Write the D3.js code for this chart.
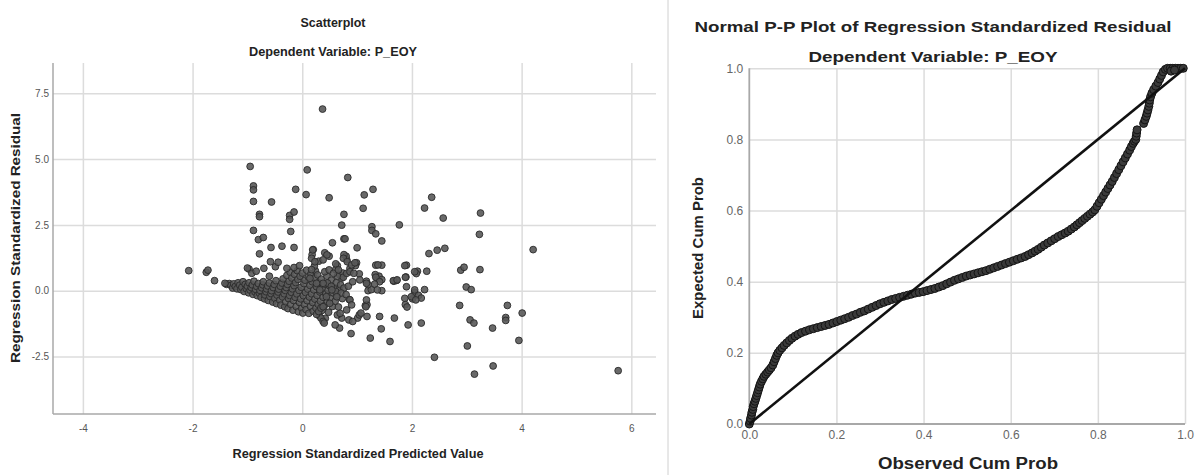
<!DOCTYPE html>
<html>
<head>
<meta charset="utf-8">
<script src="https://cdn.jsdelivr.net/npm/d3@7"></script>
<style>
  body { margin: 0; background: #fff; }
  svg { display: block; }
  .narrow { font-family: "Liberation Sans Narrow", "Arial Narrow", "Liberation Sans", sans-serif; }
  .wide { font-family: "Liberation Sans", Arial, sans-serif; }
</style>
</head>
<body>
<div id="chart"></div>
<script>
// ---- data ----
var predTicks = [-4, -2, 0, 2, 4, 6];
var residTicks = [-2.5, 0, 2.5, 5, 7.5];
var probTicks = [0, 0.2, 0.4, 0.6, 0.8, 1.0];

// [standardized predicted value, standardized residual]
var residCluster = [
  [-1.38,0.24],[-1.33,0.27],[-1.30,0.20],[-1.27,0.10],[-1.25,0.26],[-1.22,0.16],[-1.19,0.07],[-1.17,0.30],
  [-1.14,0.21],[-1.12,0.04],[-1.10,0.13],[-1.08,0.34],[-1.06,-0.03],[-1.04,0.24],[-1.02,0.08],[-1.00,0.17],
  [-0.98,-0.08],[-0.97,0.30],[-0.95,0.02],[-0.93,0.12],[-0.91,0.22],[-0.90,-0.14],[-0.88,0.36],[-0.86,-0.05],
  [-0.85,0.05],[-0.83,0.16],[-0.82,-0.19],[-0.80,0.27],[-0.78,-0.10],[-0.77,0.01],[-0.75,-0.25],[-0.74,0.11],
  [-0.72,0.22],[-0.71,0.34],[-0.69,-0.31],[-0.68,-0.16],[-0.66,-0.04],[-0.65,0.07],[-0.63,0.18],[-0.62,-0.37],
  [-0.60,0.29],[-0.59,-0.22],[-0.57,-0.11],[-0.56,0.00],[-0.54,-0.43],[-0.53,0.12],[-0.51,0.24],[-0.50,-0.29],
  [-0.48,0.38],[-0.47,-0.49],[-0.46,-0.17],[-0.44,-0.05],[-0.43,0.06],[-0.41,-0.36],[-0.40,0.17],[-0.39,-0.55],
  [-0.37,0.29],[-0.36,-0.24],[-0.35,0.45],[-0.33,-0.12],[-0.32,-0.61],[-0.31,0.01],[-0.30,-0.42],[-0.29,0.12],
  [-0.28,0.58],[-0.27,0.24],[-0.26,-0.68],[-0.25,-0.30],[-0.24,0.36],[-0.23,-0.18],[-0.22,0.70],[-0.21,-0.52],
  [-0.20,-0.06],[-0.19,0.48],[-0.18,0.07],[-0.17,-0.74],[-0.16,-0.37],[-0.15,0.19],[-0.14,0.62],[-0.13,-0.25],
  [-0.12,0.31],[-0.11,-0.60],[-0.10,-0.12],[-0.09,0.76],[-0.08,0.43],[-0.07,-0.80],[-0.06,0.01],[-0.05,-0.45],
  [-0.04,0.55],[-0.03,-0.31],[-0.02,0.13],[-0.01,-0.67],[0.00,0.67],[0.01,-0.85],[0.02,-0.19],[0.03,0.27],
  [0.04,-0.53],[0.05,0.40],[0.06,-0.07],[0.07,-0.72],[0.08,0.78],[0.09,-0.38],[0.10,0.06],[0.11,0.52],
  [0.12,-0.86],[0.13,-0.24],[0.14,0.20],[0.15,-0.60],[0.16,0.64],[0.17,-0.12],[0.18,0.34],[0.19,-0.45],
  [0.20,-0.78],[0.21,0.03],[0.22,0.48],[0.23,-0.32],[0.24,0.75],[0.25,-0.66],[0.26,0.15],[0.27,-0.18],
  [0.28,0.60],[0.29,-0.52],[0.30,0.30],[0.31,-0.95],[0.32,-0.05],[0.33,-0.40],[0.35,0.44],[0.36,-0.75],
  [0.37,0.10],[0.38,-0.25],[0.40,-0.58],[0.41,0.25],[0.42,-1.05],[0.43,-0.12],[0.45,0.55],[0.46,-0.42],
  [0.47,0.02],[0.48,-0.82],[0.50,0.18],[0.51,-0.28],[0.53,0.40],[0.55,-0.60],[0.56,-0.08],[0.58,0.12],
  [0.60,-0.40],[0.62,0.30],[0.64,-0.15],[0.66,-0.62],[0.68,0.05],[0.70,0.22],[0.73,-0.30],[0.76,0.10],
  [-0.97,0.82],[-0.92,0.66],[-0.70,0.85],[-0.60,0.55],[-0.49,0.91],[-0.44,1.08],[-0.28,0.85],[-0.15,0.88],
  [-0.05,0.95],[-1.00,0.86],[-0.84,0.74],[-0.58,1.10]
];

var residSpread = [
  [-2.07,0.76],[-1.75,0.70],[-1.72,0.78],[-1.60,0.38],[-1.41,0.28],[-0.95,4.72],[-0.89,3.98],[-0.89,3.83],
  [-0.89,3.39],[-0.56,3.37],[-0.78,2.90],[-0.78,2.81],[-0.89,2.29],[-0.80,1.94],[-0.71,2.02],[-0.57,1.64],
  [-0.37,1.69],[-0.15,1.64],[-0.78,1.40],[-0.23,2.86],[-0.23,2.71],[-0.15,2.99],[-0.21,2.25],[-0.12,3.85],
  [0.07,3.65],[0.09,4.59],[0.37,6.90],[0.49,3.53],[0.83,4.30],[0.76,2.90],[0.72,2.49],[0.76,1.97],
  [0.78,1.97],[0.55,1.82],[1.00,1.63],[1.11,3.13],[1.13,3.64],[1.29,3.85],[1.27,2.43],[1.27,2.29],
  [1.34,2.16],[1.45,1.89],[1.77,2.50],[2.23,3.14],[2.36,3.55],[2.57,2.76],[3.25,2.95],[3.23,2.14],
  [2.46,1.54],[2.60,1.61],[2.31,1.41],[4.21,1.56],[1.90,0.97],[1.89,0.52],[1.72,0.39],[1.67,0.36],
  [1.87,-0.29],[1.88,-0.53],[1.91,-0.62],[2.10,0.74],[2.08,0.65],[2.27,0.74],[2.05,-0.06],[2.12,-0.18],
  [2.17,-0.28],[2.23,0.04],[2.01,-0.31],[2.89,0.78],[2.95,0.89],[3.24,0.80],[2.99,0.14],[3.08,0.04],
  [2.87,-0.56],[3.06,-1.11],[3.13,-1.23],[3.01,-2.10],[3.14,-3.17],[3.48,-2.86],[3.47,-1.42],[3.74,-0.56],
  [3.71,-1.02],[3.71,-1.13],[4.01,-0.85],[3.95,-1.89],[5.76,-3.04],[2.41,-2.53],[1.93,-1.30],[2.17,-1.23],
  [1.68,-1.04],[1.60,-1.93],[1.24,-1.80],[0.89,-1.63],[1.44,-1.45],[1.41,-0.98],[1.18,-0.98],[1.01,-1.04],
  [1.04,-0.92],[1.07,-0.85],[1.15,-0.57],[1.18,-0.53],[1.20,0.00],[1.26,0.04],[1.45,0.00],[1.36,0.48],
  [1.40,0.55],[1.45,0.42],[1.33,0.61],[1.34,0.97],[1.45,0.97],[1.17,0.36],[1.20,0.23],[0.99,1.06],
  [0.97,0.95],[0.87,0.85],[1.04,0.64],[0.85,-1.11],[0.92,-1.17],[0.72,-1.04],[0.64,-0.92],[0.68,-1.42],
  [0.60,-1.30],[0.34,-1.04],[0.38,-1.17],[0.40,-1.23],[0.26,-0.90],[0.30,-0.79],[0.34,-0.66],[0.81,1.18],
  [0.80,1.31],[0.76,1.37],[0.64,0.95],[0.61,0.80],[0.68,0.61],[0.72,0.48],[0.49,1.31],[0.41,1.44],
  [0.20,1.56],[0.18,1.37],[0.30,1.12],[0.22,0.93],[0.17,0.80],[0.46,0.29],[0.53,0.17],[0.61,-0.03],
  [0.71,-0.09],[0.84,0.17],[0.80,-0.15],[0.86,-0.34],[0.74,0.67],[0.64,0.55],[0.19,1.55],[0.17,1.23],
  [0.23,1.10],[0.45,1.36],[0.38,1.17],[0.61,1.02],[0.75,1.23],[0.82,1.10],[0.90,0.98],[0.96,1.06],
  [1.38,0.98],[1.87,0.95],[2.05,0.72],[0.41,0.72],[0.49,0.79],[0.57,0.66],[0.66,0.79],[0.75,0.51],
  [0.81,0.66],[0.87,0.72],[0.94,0.66],[1.05,0.41],[0.92,0.34],[1.17,0.28],[1.34,0.51],[1.41,0.34],
  [1.32,0.25],[1.37,0.03],[1.66,0.38],[1.73,0.41],[1.88,0.51],[1.90,0.15],[2.05,0.03],[1.99,-0.23],
  [2.07,-0.35],[1.17,-0.35],[1.16,-0.61],[0.87,-0.35],[0.90,-0.54],[0.81,-0.73],[0.69,-0.86],[0.50,-0.48],
  [0.38,-0.61],[0.44,-0.23],[0.63,-0.23],[0.54,0.03],[0.32,0.03],[0.38,0.28],[0.26,0.28],[0.14,0.47]
];

// observed cum prob, expected cum prob
var ppObserved = [
  0.000,0.002,0.003,0.005,0.006,0.008,0.009,0.011,0.013,0.015,0.017,0.019,0.021,0.023,0.025,0.028,
  0.031,0.034,0.038,0.042,0.046,0.050,0.054,0.057,0.060,0.063,0.066,0.070,0.075,0.080,0.086,0.092,
  0.098,0.105,0.112,0.120,0.129,0.138,0.147,0.156,0.165,0.174,0.183,0.192,0.201,0.210,0.219,0.228,
  0.237,0.246,0.255,0.264,0.273,0.282,0.291,0.300,0.309,0.318,0.327,0.336,0.345,0.354,0.363,0.372,
  0.381,0.390,0.399,0.408,0.417,0.426,0.435,0.444,0.453,0.462,0.471,0.480,0.489,0.498,0.507,0.516,
  0.525,0.534,0.543,0.552,0.561,0.570,0.579,0.588,0.597,0.606,0.615,0.624,0.633,0.641,0.649,0.656,
  0.663,0.670,0.677,0.685,0.693,0.701,0.709,0.717,0.725,0.732,0.739,0.746,0.752,0.758,0.764,0.770,
  0.776,0.782,0.788,0.793,0.798,0.803,0.808,0.813,0.818,0.823,0.828,0.833,0.838,0.843,0.848,0.853,
  0.858,0.863,0.868,0.873,0.877,0.881,0.884,0.887,0.888,0.889,0.890,0.905,0.908,0.911,0.913,0.915,
  0.917,0.918,0.919,0.921,0.924,0.928,0.933,0.938,0.942,0.946,0.950,0.955,0.960,0.966,0.972,0.978,
  0.984,0.990,0.996,0.968,0.976
];
var ppExpected = [
  0.000,0.008,0.016,0.025,0.033,0.041,0.049,0.057,0.064,0.072,0.080,0.088,0.096,0.104,0.112,0.120,
  0.127,0.134,0.140,0.146,0.152,0.158,0.166,0.175,0.184,0.193,0.200,0.207,0.214,0.221,0.228,0.235,
  0.241,0.247,0.252,0.257,0.261,0.265,0.268,0.271,0.274,0.277,0.280,0.284,0.288,0.292,0.296,0.300,
  0.305,0.309,0.314,0.318,0.323,0.328,0.333,0.338,0.342,0.346,0.350,0.353,0.356,0.359,0.362,0.365,
  0.368,0.370,0.372,0.375,0.378,0.381,0.385,0.389,0.394,0.399,0.404,0.408,0.412,0.416,0.419,0.422,
  0.425,0.428,0.431,0.435,0.439,0.443,0.447,0.451,0.455,0.459,0.463,0.467,0.471,0.476,0.481,0.486,
  0.491,0.497,0.503,0.509,0.515,0.521,0.527,0.532,0.537,0.542,0.548,0.554,0.560,0.566,0.572,0.578,
  0.584,0.590,0.596,0.602,0.612,0.622,0.632,0.642,0.652,0.662,0.672,0.682,0.693,0.704,0.715,0.726,
  0.737,0.748,0.759,0.770,0.780,0.789,0.795,0.800,0.809,0.818,0.827,0.845,0.855,0.865,0.874,0.883,
  0.893,0.902,0.911,0.920,0.930,0.940,0.950,0.960,0.970,0.980,0.990,0.997,1.000,1.000,1.000,1.000,
  1.000,1.000,1.000,0.992,0.995
];

// ---- layout ----
var W = 1200, H = 475;

var svg = d3.select("#chart").append("svg")
    .attr("width", W)
    .attr("height", H);

function fitText(sel, len) {
  sel.attr("textLength", len).attr("lengthAdjust", "spacingAndGlyphs");
}
function hyphen(f) {
  return function (d) { return f(d).replace("\u2212", "-"); };
}

// divider between the two panels
svg.append("line")
    .attr("x1", 668).attr("x2", 668)
    .attr("y1", 0).attr("y2", H)
    .attr("stroke", "#d0d0d0")
    .attr("stroke-width", 1);

// ===== left panel: scatterplot =====
var x1 = d3.scaleLinear().domain([-4.545, 6.45]).range([53, 656]);
var y1 = d3.scaleLinear().domain([-4.685, 8.65]).range([414, 63]);

var g1 = svg.append("g");

g1.append("g")
    .attr("class", "grid")
    .attr("transform", "translate(0,414)")
    .call(d3.axisBottom(x1).tickValues(predTicks).tickSize(-351).tickFormat(""))
    .call(function (g) { g.select(".domain").remove(); });

g1.append("g")
    .attr("class", "grid")
    .attr("transform", "translate(53,0)")
    .call(d3.axisLeft(y1).tickValues(residTicks).tickSize(-603).tickFormat(""))
    .call(function (g) { g.select(".domain").remove(); });

g1.selectAll(".grid line")
    .attr("stroke", "#dcdcdc")
    .attr("stroke-width", 1.5);

// axis lines
g1.append("line")
    .attr("x1", 53).attr("x2", 53).attr("y1", 63).attr("y2", 414)
    .attr("stroke", "#a8a8a8").attr("stroke-width", 1.5);
g1.append("line")
    .attr("x1", 53).attr("x2", 656).attr("y1", 414).attr("y2", 414)
    .attr("stroke", "#a8a8a8").attr("stroke-width", 1.5);

// tick labels
var xAx1 = g1.append("g")
    .attr("transform", "translate(0,414)")
    .call(d3.axisBottom(x1).tickValues(predTicks).tickSize(0).tickPadding(11).tickFormat(hyphen(d3.format("d"))));
var yAx1 = g1.append("g")
    .attr("transform", "translate(53,0)")
    .call(d3.axisLeft(y1).tickValues(residTicks).tickSize(0).tickPadding(4).tickFormat(hyphen(d3.format(".1f"))));
[xAx1, yAx1].forEach(function (a) {
  a.select(".domain").remove();
  a.selectAll("text").attr("fill", "#555").style("font-size", "10px")
      .style("font-family", "'Liberation Sans Narrow', 'Arial Narrow', sans-serif");
});

// points
g1.append("g")
  .selectAll("circle")
  .data(residCluster.concat(residSpread))
  .enter().append("circle")
    .attr("cx", function (d) { return x1(d[0]); })
    .attr("cy", function (d) { return y1(d[1]); })
    .attr("r", 3.4)
    .attr("fill", "#595959")
    .attr("fill-opacity", 0.9)
    .attr("stroke", "#2a2a2a")
    .attr("stroke-width", 0.9);

// titles and labels
g1.append("text")
    .attr("class", "narrow")
    .attr("x", 333).attr("y", 27)
    .attr("text-anchor", "middle")
    .attr("fill", "#222")
    .style("font-size", "12.5px")
    .style("font-weight", "600")
    .text("Scatterplot")
    .call(fitText, 65);

g1.append("text")
    .attr("class", "narrow")
    .attr("x", 333).attr("y", 56)
    .attr("text-anchor", "middle")
    .attr("fill", "#222")
    .style("font-size", "12.5px")
    .style("font-weight", "600")
    .text("Dependent Variable: P_EOY")
    .call(fitText, 168);

g1.append("text")
    .attr("class", "narrow")
    .attr("x", 358).attr("y", 458)
    .attr("text-anchor", "middle")
    .attr("fill", "#222")
    .style("font-size", "13px")
    .style("font-weight", "bold")
    .text("Regression Standardized Predicted Value")
    .call(fitText, 251);

g1.append("text")
    .attr("class", "wide")
    .attr("transform", "translate(20,238) rotate(-90)")
    .attr("text-anchor", "middle")
    .attr("fill", "#222")
    .style("font-size", "13px")
    .style("font-weight", "bold")
    .text("Regression Standardized Residual")
    .call(fitText, 250);

// ===== right panel: normal P-P plot =====
var x2 = d3.scaleLinear().domain([0, 1]).range([749.3, 1185]);
var y2 = d3.scaleLinear().domain([0, 1]).range([424, 68.3]);

var g2 = svg.append("g");

g2.append("g")
    .attr("class", "grid")
    .attr("transform", "translate(0,424)")
    .call(d3.axisBottom(x2).tickValues(probTicks.slice(1)).tickSize(-355.7).tickFormat(""))
    .call(function (g) { g.select(".domain").remove(); });
g2.append("g")
    .attr("class", "grid")
    .attr("transform", "translate(749.3,0)")
    .call(d3.axisLeft(y2).tickValues(probTicks.slice(1)).tickSize(-435.7).tickFormat(""))
    .call(function (g) { g.select(".domain").remove(); });
g2.selectAll(".grid line")
    .attr("stroke", "#dcdcdc")
    .attr("stroke-width", 1.5);

g2.append("line")
    .attr("x1", 749.3).attr("x2", 749.3).attr("y1", 68.3).attr("y2", 424)
    .attr("stroke", "#a8a8a8").attr("stroke-width", 1.8);
g2.append("line")
    .attr("x1", 749.3).attr("x2", 1185).attr("y1", 424).attr("y2", 424)
    .attr("stroke", "#a8a8a8").attr("stroke-width", 1.8);

var xAx2 = g2.append("g")
    .attr("transform", "translate(0,424)")
    .call(d3.axisBottom(x2).tickValues(probTicks).tickSize(0).tickPadding(6).tickFormat(d3.format(".1f")));
var yAx2 = g2.append("g")
    .attr("transform", "translate(749.3,0)")
    .call(d3.axisLeft(y2).tickValues(probTicks).tickSize(0).tickPadding(6).tickFormat(d3.format(".1f")));
[xAx2, yAx2].forEach(function (a) {
  a.select(".domain").remove();
  a.selectAll("text").attr("fill", "#666").style("font-size", "12px")
      .style("font-family", "'Liberation Sans', Arial, sans-serif");
});

var ppData = ppObserved.map(function (o, i) { return [o, ppExpected[i]]; });

g2.append("g")
  .selectAll("circle")
  .data(ppData)
  .enter().append("circle")
    .attr("cx", function (d) { return x2(d[0]); })
    .attr("cy", function (d) { return y2(d[1]); })
    .attr("r", 4)
    .attr("fill", "#3a3a3a")
    .attr("stroke", "#141414")
    .attr("stroke-width", 1);

// reference diagonal
g2.append("path")
    .datum([[0, 0], [1, 1]])
    .attr("fill", "none")
    .attr("stroke", "#111")
    .attr("stroke-width", 2.6)
    .attr("d", d3.line().x(function (d) { return x2(d[0]); }).y(function (d) { return y2(d[1]); }));

g2.append("text")
    .attr("class", "wide")
    .attr("x", 933).attr("y", 32)
    .attr("text-anchor", "middle")
    .attr("fill", "#222")
    .style("font-size", "15px")
    .style("font-weight", "bold")
    .text("Normal P-P Plot of Regression Standardized Residual")
    .call(fitText, 477);

g2.append("text")
    .attr("class", "wide")
    .attr("x", 933).attr("y", 62)
    .attr("text-anchor", "middle")
    .attr("fill", "#222")
    .style("font-size", "15px")
    .style("font-weight", "bold")
    .text("Dependent Variable: P_EOY")
    .call(fitText, 249);

g2.append("text")
    .attr("class", "wide")
    .attr("x", 968).attr("y", 469)
    .attr("text-anchor", "middle")
    .attr("fill", "#222")
    .style("font-size", "16px")
    .style("font-weight", "bold")
    .text("Observed Cum Prob")
    .call(fitText, 180);

g2.append("text")
    .attr("class", "wide")
    .attr("transform", "translate(703,248) rotate(-90)")
    .attr("text-anchor", "middle")
    .attr("fill", "#222")
    .style("font-size", "14px")
    .style("font-weight", "bold")
    .text("Expected Cum Prob")
    .call(fitText, 142);
</script>
</body>
</html>
